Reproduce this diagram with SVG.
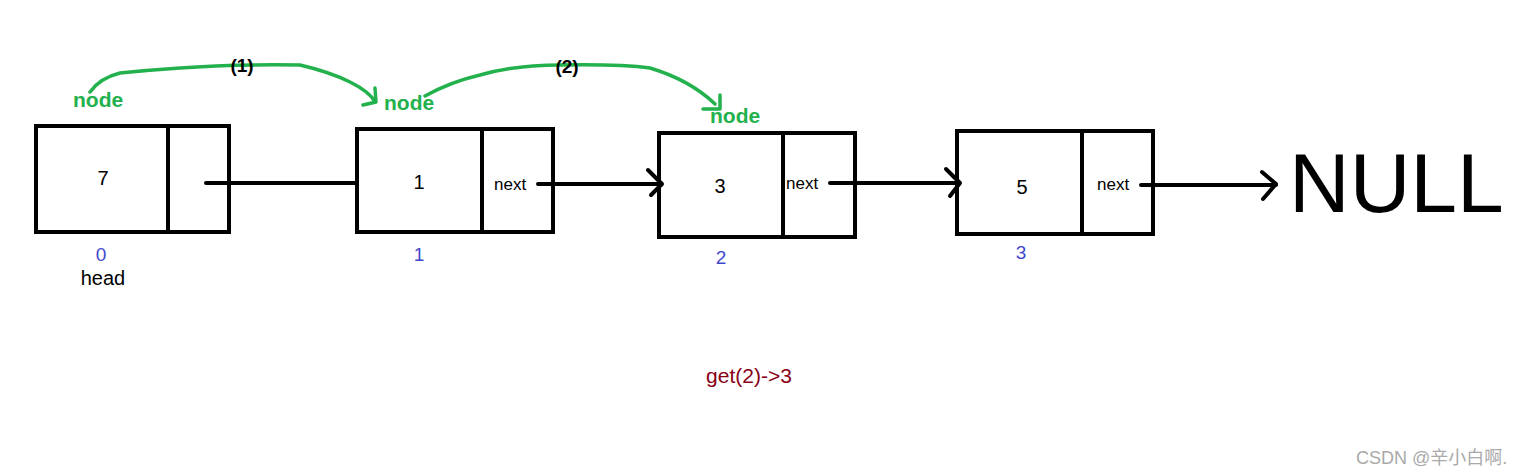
<svg xmlns="http://www.w3.org/2000/svg" width="1527" height="475" viewBox="0 0 1527 475">
<style>
.box{fill:none;stroke:#000;stroke-width:4}
.val{font-family:"Liberation Sans",Arial,sans-serif;font-size:20px;fill:#000;text-anchor:middle}
.nx{font-family:"Liberation Sans",Arial,sans-serif;font-size:17px;fill:#000}
.idx{font-family:"Liberation Sans",Arial,sans-serif;font-size:19px;fill:#3f48cc;text-anchor:middle}
.lbl{font-family:"Liberation Sans",Arial,sans-serif;font-size:21px;font-weight:bold;fill:#22b14c}
.step{font-family:"Liberation Sans",Arial,sans-serif;font-size:19px;font-weight:bold;fill:#000;text-anchor:middle}
.link{fill:none;stroke:#000;stroke-width:4;stroke-linecap:round;stroke-linejoin:round}
.g{fill:none;stroke:#22b14c;stroke-width:3.5;stroke-linecap:round;stroke-linejoin:round}
</style>
<rect width="1527" height="475" fill="#fff"/>
<g id="node0">
<rect class="box" x="36" y="126" width="193" height="106"/>
<line class="box" x1="168" y1="126" x2="168" y2="232"/>
<text class="val" x="103" y="185">7</text>
<text class="idx" x="101" y="261">0</text>
<text x="103" y="285" font-family="Liberation Sans,Arial,sans-serif" font-size="20" text-anchor="middle" fill="#000">head</text>
</g>
<g id="node1">
<rect class="box" x="357" y="129" width="196" height="103"/>
<line class="box" x1="482" y1="129" x2="482" y2="232"/>
<text class="val" x="419" y="189">1</text>
<text class="nx" x="494" y="190">next</text>
<text class="idx" x="419" y="261">1</text>
</g>
<g id="node2">
<rect class="box" x="659" y="133" width="196" height="104"/>
<line class="box" x1="783" y1="133" x2="783" y2="237"/>
<text class="val" x="720" y="193">3</text>
<text class="nx" x="786" y="189">next</text>
<text class="idx" x="721" y="264">2</text>
</g>
<g id="node3">
<rect class="box" x="957" y="131" width="196" height="103"/>
<line class="box" x1="1082" y1="131" x2="1082" y2="234"/>
<text class="val" x="1022" y="194">5</text>
<text class="nx" x="1097" y="190">next</text>
<text class="idx" x="1021" y="259">3</text>
</g>
<g id="null">
<text x="1289" y="212" font-family="Liberation Sans,Arial,sans-serif" font-size="84" fill="#000">NULL</text>
</g>
<g id="connectors">
<path class="link" d="M206 183 H356"/>
<path class="link" d="M538 184 H662 M648 170 L662 184 L651 195"/>
<path class="link" d="M830 183 H960 M946 169 L960 183 L950 196"/>
<path class="link" d="M1141 185 H1276 M1262 172 L1276 184 L1263 199"/>
<path class="g" d="M90 92 Q100 78 120 73 Q150 70 180 68 Q230 64 300 65 Q330 72 350 82 Q370 92 375 102 M363 105 L376 102 L375 88"/>
<path class="g" d="M425 96 Q450 82 480 75 Q515 65 560 65 Q620 64 650 68 Q690 80 715 104 M703 109 L720 109 L720 95"/>
<text class="lbl" x="73" y="107">node</text>
<text class="lbl" x="384" y="110">node</text>
<text class="lbl" x="710" y="123">node</text>
<text class="step" x="242" y="72">(1)</text>
<text class="step" x="567" y="73">(2)</text>
</g>
<text x="749" y="383" font-family="Liberation Sans,Arial,sans-serif" font-size="21" text-anchor="middle" fill="#880015">get(2)-&gt;3</text>
<text x="1356" y="464" font-family="Liberation Sans,Noto Sans CJK SC,sans-serif" font-size="18" fill="#aaaaaa">CSDN @辛小白啊.</text>
</svg>
